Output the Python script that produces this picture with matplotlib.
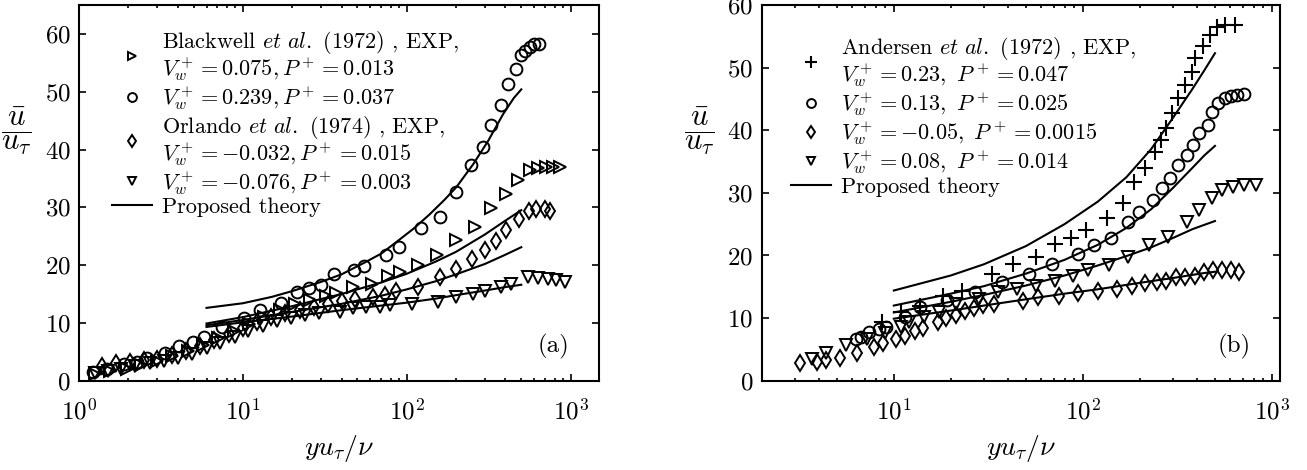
import numpy as np
import matplotlib.pyplot as plt
from matplotlib.ticker import LogLocator, NullFormatter, MultipleLocator

plt.rcParams['font.family'] = 'cmr10'
plt.rcParams['mathtext.fontset'] = 'cm'
plt.rcParams['axes.formatter.use_mathtext'] = True
plt.rcParams['axes.unicode_minus'] = True

# ---- panel (a): Blackwell et al. (1972) and Orlando et al. (1974) ----
bw1_x = [1.25, 1.55, 1.95, 2.4, 3.0, 3.7, 4.6, 5.7, 7.1, 8.8, 10.9, 13.5, 16.8, 20.8, 25.8, 32, 37.2,
         47.1, 61, 76.9, 90.6, 117, 152, 201, 260, 328, 405, 477, 562, 632, 711, 780, 857]
bw1_y = [1.2, 1.6, 2.1, 2.7, 3.4, 4.2, 5.1, 6.2, 7.4, 8.6, 9.8, 11.0, 12.2, 13.2, 14.0, 14.7, 15.1,
         16.2, 16.8, 18.2, 18.8, 19.95, 21.7, 24.3, 26.6, 29.8, 32.3, 34.7, 36.5, 36.8, 36.9, 36.9, 36.9]

bw2_x = [1.21, 1.49, 1.88, 2.27, 2.61, 3.34, 4.07, 4.98, 5.8, 7.5, 10.1, 12.8, 17.0, 21.4, 25.3, 29.8,
         35.9, 47.5, 54.5, 74.4, 90, 123, 159, 201, 248, 292, 328, 378, 415, 467, 500, 524, 563, 594, 641]
bw2_y = [1.56, 1.96, 2.88, 3.3, 3.86, 4.83, 5.98, 6.73, 7.6, 9.3, 10.9, 12.2, 13.5, 15.35, 16.0, 16.6,
         18.4, 19.2, 19.8, 21.7, 23.1, 26.5, 28.3, 32.6, 37.3, 40.35, 44.2, 47.65, 51.3, 53.97, 56.4,
         57.1, 57.7, 58.3, 58.3]

or1_x = [1.38, 1.68, 2.05, 2.5, 3.0, 3.7, 4.5, 5.5, 6.7, 8.2, 10.0, 12.2, 14.9, 18.2, 22.2, 27, 33, 40,
         48.5, 62.4, 73.5, 86.5, 117, 159, 201, 250, 300, 350, 405, 484, 557, 618, 694, 745]
or1_y = [2.6, 3.0, 3.2, 3.5, 3.8, 4.4, 5.1, 6.0, 7.0, 8.1, 9.1, 10.1, 11.0, 11.7, 12.3, 12.8, 13.3, 13.8,
         14.2, 14.5, 14.8, 15.6, 16.2, 17.9, 19.4, 21.0, 22.6, 24.2, 26.0, 28.0, 29.4, 29.7, 29.7, 29.4]

or2_x = [1.25, 1.5, 1.8, 2.2, 2.7, 3.3, 4.0, 4.9, 6.0, 7.3, 8.9, 10.8, 13.2, 16.1, 19.7, 24, 29.3, 39,
         47.1, 56.7, 68.4, 78.7, 107, 155, 201, 254, 299, 378, 435, 550, 632, 728, 818, 918]
or2_y = [1.3, 1.7, 2.1, 2.6, 3.0, 3.4, 4.0, 4.7, 5.6, 6.6, 7.6, 8.6, 9.5, 10.3, 10.9, 11.4, 11.7, 11.9,
         12.5, 12.8, 12.8, 13.05, 13.3, 13.6, 14.5, 15.07, 15.6, 16.2, 16.8, 17.9, 17.8, 17.65, 17.4, 17.07]

# theory curves, panel (a)
tha1_x = [6, 10, 15, 20, 30, 40, 55, 70, 86.5, 110, 137, 170, 201, 255, 314, 387, 450, 500]
tha1_y = [12.6, 13.4, 14.5, 15.5, 17.1, 18.4, 20.4, 22.0, 24.0, 26.3, 28.7, 31.3, 33.5, 37.5, 41.5, 46.1,
          48.9, 50.4]
tha_x = [6, 10, 20, 40, 70, 100, 150, 200, 300, 400, 500]
tha2_y = [9.9, 11.0, 12.9, 15.0, 17.0, 18.5, 20.6, 22.3, 25.3, 27.7, 29.5]
tha3_y = [9.6, 10.5, 11.9, 13.3, 14.7, 15.8, 17.2, 18.4, 20.2, 21.8, 23.1]
tha4_y = [9.3, 10.1, 11.1, 12.2, 13.0, 13.5, 14.2, 14.8, 15.6, 16.2, 16.6]

# ---- panel (b): Andersen et al. (1972) ----
an1_x = [8.7, 10.9, 13.8, 18.2, 23, 32.9, 42.5, 56.2, 70.8, 86.8, 104, 134, 163, 187, 213, 242, 258,
         275, 296, 320, 346, 377, 393, 431, 470, 513, 562, 639]
an1_y = [9.3, 10.9, 12.0, 13.6, 14.4, 17.1, 18.7, 19.7, 21.9, 22.8, 24.0, 26.0, 28.4, 31.7, 33.9, 36.5,
         38.4, 40.3, 42.7, 45.1, 47.2, 49.3, 51.5, 53.4, 55.2, 56.5, 56.8, 56.8]

an2_x = [6.3, 6.7, 7.4, 8.3, 9.1, 11.4, 13.8, 19.2, 26.8, 37.3, 52, 69, 93.8, 115, 141, 173, 197, 236,
         261, 289, 320, 355, 383, 414, 458, 482, 521, 562, 607, 656, 711]
an2_y = [6.7, 6.9, 7.7, 8.3, 8.5, 10.1, 11.8, 12.9, 14.1, 15.7, 17.1, 18.7, 20.3, 21.6, 22.8, 25.3, 26.9,
         28.8, 30.7, 32.3, 34.4, 36.0, 37.6, 39.5, 40.8, 42.9, 44.3, 45.1, 45.4, 45.6, 45.8]

an3_x = [3.2, 3.9, 4.4, 5.2, 6.4, 7.9, 8.8, 10.3, 11.4, 12.9, 14.2, 17.1, 18.9, 21.4, 23.7, 26.7, 29.6,
         33.7, 48.2, 57.7, 74.5, 93.8, 120, 152, 182, 213, 248, 275, 312, 346, 393, 440, 487, 548, 607, 673]
an3_y = [2.8, 3.05, 3.3, 3.6, 4.4, 5.45, 6.0, 6.6, 7.2, 7.9, 8.4, 9.3, 10.0, 10.5, 11.1, 11.6, 12.1,
         12.2, 12.8, 13.4, 13.6, 14.0, 14.4, 14.7, 15.2, 15.6, 15.7, 16.0, 16.5, 16.6, 16.8, 17.3, 17.7,
         17.7, 17.6, 17.3]

an4_x = [3.7, 4.4, 5.6, 7.2, 9.0, 10.9, 12.1, 14.5, 17.3, 21.3, 28.2, 35.5, 44.7, 56.2, 70.8, 89, 107,
         138, 173, 224, 282, 355, 414, 482, 548, 623, 711, 826]
an4_y = [3.4, 4.4, 5.7, 6.6, 7.6, 8.6, 9.3, 10.2, 11.0, 12.3, 13.1, 14.1, 14.7, 15.2, 16.0, 16.8, 17.6,
         18.4, 19.7, 21.6, 22.9, 25.3, 27.2, 29.1, 30.4, 30.9, 31.2, 31.2]

# theory curves, panel (b)
thb_x = [10, 20, 30, 50, 80, 120, 170, 230, 300, 380, 440, 500]
thb1_y = [14.4, 16.8, 18.6, 21.5, 25.0, 28.6, 32.5, 37.0, 42.0, 46.6, 49.6, 52.3]
thb2_y = [12.0, 13.9, 15.1, 17.1, 19.3, 21.7, 24.4, 27.4, 30.8, 34.0, 36.0, 37.5]
thb3_y = [10.9, 12.6, 13.7, 15.2, 16.8, 18.4, 19.9, 21.3, 22.8, 24.2, 24.9, 25.5]
thb4_y = [9.9, 11.2, 12.0, 13.0, 13.9, 14.6, 15.3, 15.9, 16.4, 16.9, 17.2, 17.4]

labels_a = [r'Blackwell $\mathit{et\ al.}$ (1972) , EXP,' + '\n' + r'$V_w^+ = 0.075, P^+ = 0.013$',
            r'$V_w^+ = 0.239, P^+ = 0.037$',
            r'Orlando $\mathit{et\ al.}$ (1974) , EXP,' + '\n' + r'$V_w^+ = -0.032, P^+ = 0.015$',
            r'$V_w^+ = -0.076, P^+ = 0.003$',
            'Proposed theory']
labels_b = [r'Andersen $\mathit{et\ al.}$ (1972) , EXP,' + '\n' + r'$V_w^+ = 0.23,\ P^+ = 0.047$',
            r'$V_w^+ = 0.13,\ P^+ = 0.025$',
            r'$V_w^+ = -0.05,\ P^+ = 0.0015$',
            r'$V_w^+ = 0.08,\ P^+ = 0.014$',
            'Proposed theory']

W, H = 1307, 470
fig = plt.figure(figsize=(W / 100, H / 100), dpi=100)
ax1 = fig.add_axes([79 / W, 89.3 / H, 520 / W, 375.7 / H])
ax2 = fig.add_axes([761.7 / W, 89.3 / H, 518 / W, 375.7 / H])

mk = dict(ls='none', mfc='none', mec='k', mew=1.4, ms=8.5)
leg_kw = dict(loc='upper left', frameon=False, fontsize=16, markerscale=0.75,
              handlelength=1.8, handletextpad=0.45, labelspacing=0.05,
              borderpad=0, borderaxespad=0)


def style(ax, xlim, ylim, tag):
    ax.set_xscale('log')
    ax.set_xlim(*xlim)
    ax.set_ylim(*ylim)
    ax.yaxis.set_major_locator(MultipleLocator(10))
    ax.xaxis.set_major_locator(LogLocator(base=10))
    ax.xaxis.set_minor_locator(LogLocator(base=10, subs=np.arange(2, 10)))
    ax.xaxis.set_minor_formatter(NullFormatter())
    ax.tick_params(which='both', direction='in', top=True, right=True, width=1.2,
                   labelsize=18)
    ax.tick_params(axis='x', which='both', pad=13)
    ax.tick_params(axis='y', which='both', pad=6)
    ax.tick_params(which='major', length=5)
    ax.tick_params(which='minor', length=2.5)
    for s in ax.spines.values():
        s.set_linewidth(1.5)
    ax.set_xlabel(r'$yu_\tau/\nu$', fontsize=20, labelpad=6)
    ax.set_ylabel(r'$\dfrac{\bar{u}}{u_\tau}$', fontsize=22, rotation=0)
    ax.text(0.912, 0.09, tag, transform=ax.transAxes, fontsize=18, ha='center', va='center')


def tidy_legend(leg):
    # two-line entries sit a little tighter than the default line spacing
    for t in leg.get_texts():
        t.set_linespacing(0.95)


# panel (a)
h1, = ax1.plot(bw1_x, bw1_y, marker='>', **mk)
h2, = ax1.plot(bw2_x, bw2_y, marker='o', **mk)
h3, = ax1.plot(or1_x, or1_y, marker='d', **mk)
h4, = ax1.plot(or2_x, or2_y, marker='v', **mk)
ht, = ax1.plot(tha1_x, tha1_y, 'k-', lw=1.5)
for yy in (tha2_y, tha3_y, tha4_y):
    ax1.plot(tha_x, yy, 'k-', lw=1.5)
style(ax1, (1, 1490), (0, 65), '(a)')
ax1.yaxis.set_label_coords(-0.12, 0.595)
tidy_legend(ax1.legend([h1, h2, h3, h4, ht], labels_a, bbox_to_anchor=(0.0635, 0.935), **leg_kw))

# panel (b)
g1, = ax2.plot(an1_x, an1_y, marker='+', ls='none', mec='k', mew=1.5, ms=12)
g2, = ax2.plot(an2_x, an2_y, marker='o', **mk)
g3, = ax2.plot(an3_x, an3_y, marker='d', **mk)
g4, = ax2.plot(an4_x, an4_y, marker='v', **mk)
gt, = ax2.plot(thb_x, thb1_y, 'k-', lw=1.5)
for yy in (thb2_y, thb3_y, thb4_y):
    ax2.plot(thb_x, yy, 'k-', lw=1.5)
style(ax2, (2, 1100), (0, 60), '(b)')
ax2.yaxis.set_label_coords(-0.12, 0.595)
tidy_legend(ax2.legend([g1, g2, g3, g4, gt], labels_b, bbox_to_anchor=(0.0566, 0.92), **leg_kw))

fig.savefig('out.png', dpi=100)
